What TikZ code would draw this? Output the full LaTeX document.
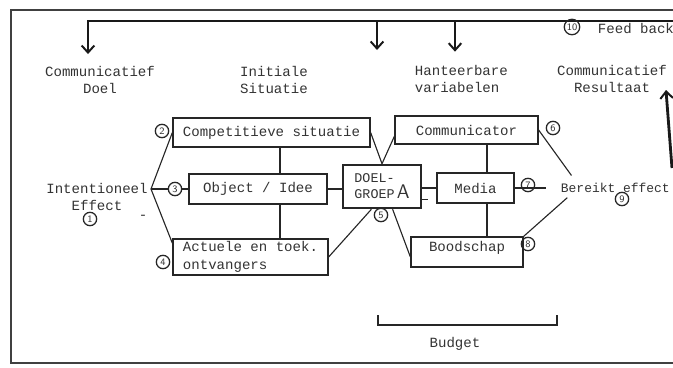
\documentclass[tikz,border=0pt]{standalone}
\usepackage{fontspec}
\setmonofont{Liberation Mono}
\usetikzlibrary{arrows.meta}
\tikzset{
  x=0.025cm, y=-0.025cm,
  >={Straight Barb[length=5pt,width=9pt,line width=1.4pt]},
  every node/.style={
    text=black!80,
    font=\ttfamily\fontsize{10}{12.5}\selectfont,
  },
  heading/.style={align=center},
  box/.style={
    rectangle,
    draw=black!85,
    line width=0.9pt,
    inner sep=0pt,
  },
  groupbox/.style={
    box,
    line width=1.8pt,
    align=left,
    font=\ttfamily\fontsize{9.5}{11.5}\selectfont,
  },
  num/.style={
    circle,
    draw=black!85,
    line width=0.9pt,
    inner sep=0pt,
    minimum size=9.5pt,
    font=\sffamily\fontsize{7}{7}\selectfont,
  },
  link/.style={line width=0.8pt, draw=black!85},
  feed/.style={line width=2pt, draw=black!90},
}
\begin{document}
\begin{tikzpicture}
  \useasboundingbox (0,0) rectangle (673,368);
  % frame
  \draw[line width=1pt, black!75] (690,10) -- (11,10) -- (11,363) -- (690,363);

  % headings
  \node[heading] (goal)   at (100,80) {Communicatief\\Doel};
  \node[heading] (init)   at (274,80) {Initiale\\Situatie};
  \node[heading, align=left, anchor=west] (vars) at (410,79) {Hanteerbare\\variabelen};
  \node[heading] (result) at (612,79) {Communicatief\\Resultaat};

  % feed back loop
  \coordinate (fbR)  at (690,21);
  \coordinate (fbL)  at (88,21);
  \coordinate (fbM1) at (377,21);
  \coordinate (fbM2) at (455,21);
  \coordinate (fbT1) at (377,50);
  \coordinate (upA)  at (672,168);
  \coordinate (upB)  at (666,90);
  \draw[feed, ->] (fbR) -- (fbL) -- ([yshift=5pt]goal.north -| fbL);
  \draw[feed, ->] (fbM1) -- (fbT1);
  \draw[feed, ->] (fbM2) -- ([yshift=6pt]vars.north -| fbM2);
  \draw[feed, ->] (upA) -- (upB);
  \node[num, minimum size=11pt] (n10) at (572,27) {10};
  \node[anchor=west] (feedback) at (593,28) {Feed back};

  % initial situation
  \node[box, minimum width=197*0.025cm, minimum height=29*0.025cm]
    (comp) at (271.5,132.5) {Competitieve situatie};
  \node[box, minimum width=138*0.025cm, minimum height=30*0.025cm]
    (obj) at (258,189) {Object / Idee};
  \node[box, align=left, minimum width=155*0.025cm, minimum height=36*0.025cm]
    (act) at (250.5,257) {Actuele en toek.\\ontvangers};
  \coordinate (sitaxis) at (280,200);

  % intended effect
  \node[heading] (intent) at (97,197) {Intentioneel\\Effect};
  \node[num] (n1) at (90,219) {1};
  \node (dash) at (143,217) {-};
  \coordinate (fan) at (151,189);
  \node[num] (n2) at (162,131) {2};
  \node[num] (n3) at (175,189) {3};
  \node[num] (n4) at (163,262) {4};
  \draw[link] (comp.west) -- (fan) -- (act.170);
  \draw[link] (fan) -- (n3) -- (obj.west |- n3);
  \draw[link] (comp.south -| sitaxis) -- (obj.north -| sitaxis);
  \draw[link] (obj.south -| sitaxis) -- (act.north -| sitaxis);

  % target group
  \node[groupbox, minimum width=78*0.025cm, minimum height=43*0.025cm]
    (doel) at (382,186.5) {DOEL-\\GROEP\,{\sffamily\fontsize{14}{14}\selectfont A}};
  \node[num] (n5) at (381,215) {5};

  % manageable variables
  \node[box, minimum width=143*0.025cm, minimum height=28*0.025cm]
    (comm) at (466.5,130) {Communicator};
  \node[box, minimum width=77*0.025cm, minimum height=30*0.025cm]
    (media) at (475.5,188) {Media};
  \node[box, minimum width=112*0.025cm, minimum height=30*0.025cm, text depth=8pt]
    (bood) at (467,252) {Boodschap};
  \coordinate (varaxis) at (487,200);

  \draw[link] (obj.east) -- (doel.west |- obj.east);
  \draw[link] (comp.east) -- (doel.north) -- (comm.185);
  \draw[link] (act.east) -- (doel.245);
  \draw[link] (doel.295) -- (bood.185);
  \draw[link] (doel.east |- media.west) -- (media.west);
  \draw[link] ([yshift=-9.5pt]doel.east) -- ++(6,0);
  \draw[link] (comm.south -| varaxis) -- (media.north -| varaxis);
  \draw[link] (media.south -| varaxis) -- (bood.north -| varaxis);

  % result
  \node[anchor=west, font=\ttfamily\fontsize{9.2}{11}\selectfont] (effect) at (556,188) {Bereikt effect};
  \node[num] (n6) at (553,128) {6};
  \node[num] (n7) at (528,185) {7};
  \node[num] (n8) at (528,244) {8};
  \node[num] (n9) at (622,199) {9};
  \draw[link] (comm.east) -- ([xshift=11pt,yshift=2pt]effect.north west);
  \draw[link] (media.east) -- ([xshift=-7pt]effect.west);
  \draw[link] (bood.north east) -- ([xshift=8pt]effect.south west);

  % budget
  \coordinate (budL) at (378,315);
  \coordinate (budR) at (557,315);
  \draw[link] (budL) -- ++(0,10) -| (budR);
  \node (budget) at (455,344) {Budget};
\end{tikzpicture}
\end{document}
